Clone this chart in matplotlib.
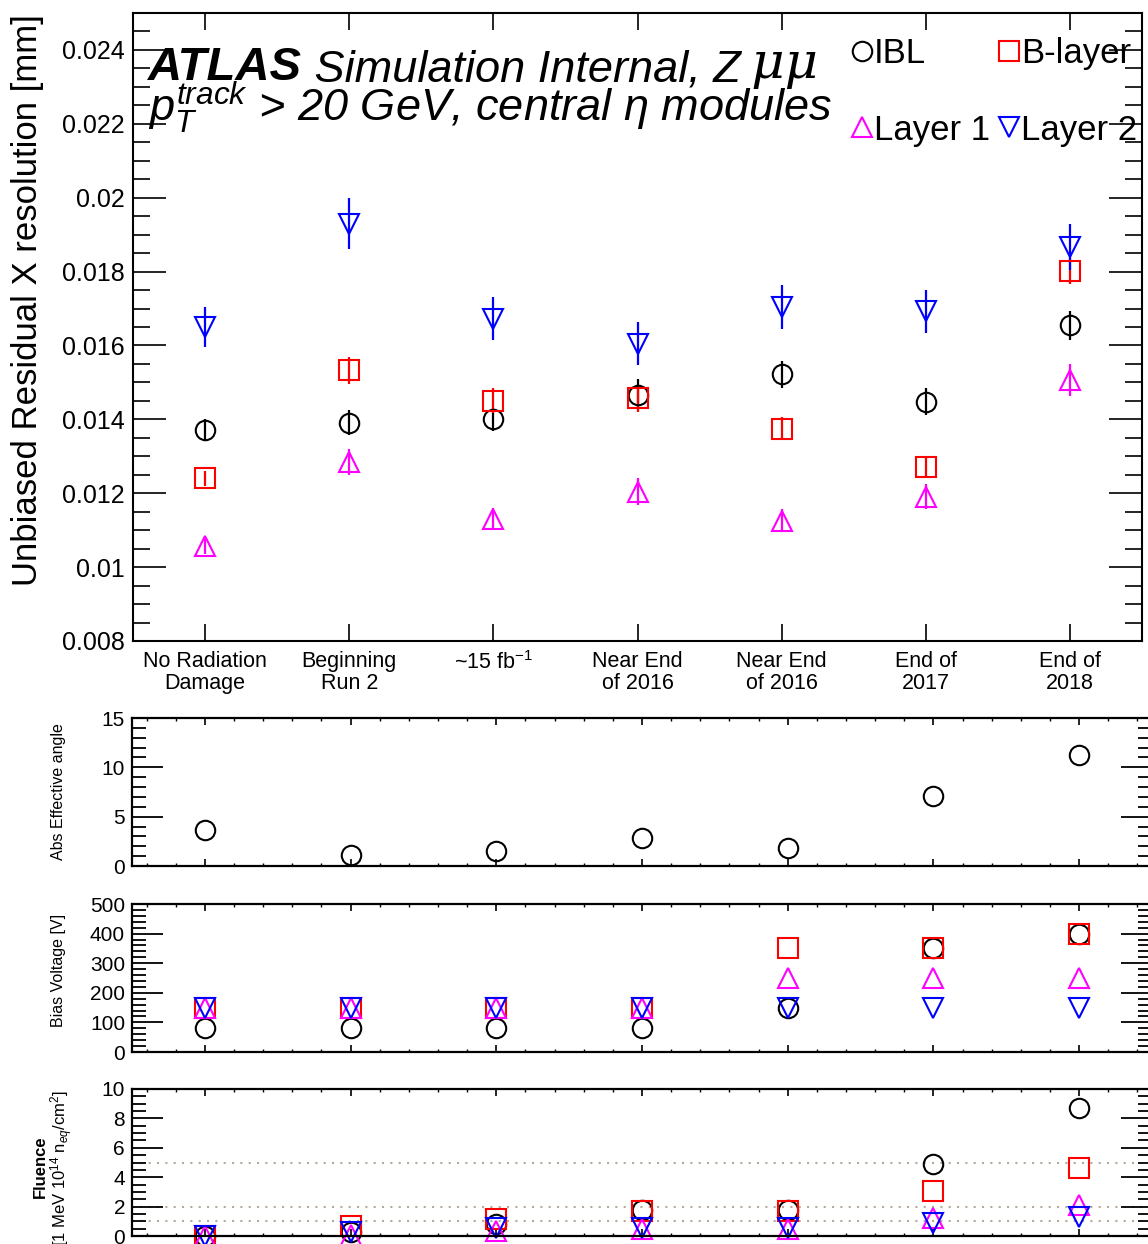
import matplotlib

matplotlib.use("Agg")
import matplotlib.pyplot as plt
import numpy as np
from matplotlib.ticker import FuncFormatter, MultipleLocator

plt.rcParams["font.family"] = ["Liberation Sans", "DejaVu Sans"]
plt.rcParams["mathtext.fontset"] = "custom"
plt.rcParams["mathtext.rm"] = "Liberation Sans"
plt.rcParams["mathtext.it"] = "Liberation Sans:italic"
plt.rcParams["mathtext.bf"] = "Liberation Sans:bold"

# --- data ---
categories = ["No Radiation\nDamage", "Beginning\nRun 2", "~15 fb$^{-1}$",
              "Near End\nof 2016", "Near End\nof 2016", "End of\n2017", "End of\n2018"]

res_ibl = [0.01371, 0.01391, 0.01400, 0.01466, 0.01522, 0.01448, 0.01655]
err_ibl = [0.00030, 0.00034, 0.00032, 0.00042, 0.00037, 0.00036, 0.00039]
res_blayer = [0.01240, 0.01533, 0.01450, 0.01457, 0.01375, 0.01270, 0.01802]
err_blayer = [0.00020, 0.00037, 0.00034, 0.00036, 0.00032, 0.00029, 0.00036]
res_layer1 = [0.01056, 0.01285, 0.01130, 0.01204, 0.01126, 0.01191, 0.01506]
err_layer1 = [0.00020, 0.00036, 0.00030, 0.00037, 0.00032, 0.00034, 0.00044]
res_layer2 = [0.01650, 0.01930, 0.01673, 0.01605, 0.01704, 0.01693, 0.01867]
err_layer2 = [0.00055, 0.00068, 0.00058, 0.00058, 0.00059, 0.00058, 0.00063]

angle_ibl = [3.65, 1.15, 1.5, 2.8, 1.8, 7.1, 11.2]

bias_ibl = [80, 80, 80, 80, 150, 350, 400]
bias_blayer = [150, 150, 150, 150, 350, 350, 400]
bias_layer1 = [150, 150, 150, 150, 250, 250, 250]
bias_layer2 = [150, 150, 150, 150, 150, 150, 150]

flu_ibl = [0.0, 0.3, 0.8, 1.8, 1.8, 4.9, 8.7]
flu_blayer = [0.0, 0.7, 1.15, 1.7, 1.7, 3.05, 4.6]
flu_layer1 = [0.0, 0.1, 0.35, 0.45, 0.45, 1.2, 2.1]
flu_layer2 = [0.0, 0.3, 0.55, 0.55, 0.55, 0.9, 1.3]
flu_guides = [1, 2, 5]

layers = ["IBL", "B-layer", "Layer 1", "Layer 2"]
markers = ["o", "s", "^", "v"]
colors = ["black", "#ff0000", "#ff00ff", "#0000ff"]

W, H = 1148, 1244
fig = plt.figure(figsize=(W / 100, H / 100), dpi=100)


def box(l, t, r, b):
    return [l / W, 1 - b / H, (r - l) / W, (b - t) / H]


ax = fig.add_axes(box(133, 13, 1142, 641))
ax_ang = fig.add_axes(box(132, 718, 1152, 866))
ax_bias = fig.add_axes(box(132, 904, 1152, 1052))
ax_flu = fig.add_axes(box(132, 1089, 1152, 1236))

x = np.arange(len(categories))
mk = dict(ms=14, mew=1.5, mfc="none", linestyle="none")

# --- top panel: resolution ---
handles = []
for name, m, c, v, e in zip(layers, markers, colors,
                            [res_ibl, res_blayer, res_layer1, res_layer2],
                            [err_ibl, err_blayer, err_layer1, err_layer2]):
    eb = ax.errorbar(x, v, yerr=e, fmt=m, color=c, elinewidth=1.6, capsize=0, **mk)
    handles.append(eb[0])

ax.set_xlim(-0.5, 6.5)
ax.set_ylim(0.008, 0.025)
ax.set_xticks(x)
ax.set_xticklabels(categories, fontsize=15.5, linespacing=1.1)
ax.tick_params(axis="x", which="major", direction="in", length=12, width=1.2,
               top=True, bottom=True, pad=7)
ax.yaxis.set_major_locator(MultipleLocator(0.002))
ax.yaxis.set_minor_locator(MultipleLocator(0.0005))
ax.yaxis.set_major_formatter(FuncFormatter(lambda v, p: f"{v:g}"))
ax.tick_params(axis="y", which="major", direction="in", length=24, width=1.2,
               left=True, right=True, labelsize=18, pad=6)
ax.tick_params(axis="y", which="minor", direction="in", length=12, width=1.2,
               left=True, right=True)
for s in ax.spines.values():
    s.set_linewidth(1.5)

fig.text(28 / W, 1 - 300 / H, "Unbiased Residual X resolution [mm]", rotation=90,
         ha="center", va="center", fontsize=25)

t1 = ax.text(0.015, 0.893, "ATLAS", transform=ax.transAxes, fontsize=34,
             fontweight="bold", fontstyle="italic", va="baseline")
t2 = ax.annotate(" Simulation Internal, Z", xy=(1, 0), xycoords=t1,
                 fontsize=32.5, fontstyle="italic", va="bottom")
ax.annotate("\u2009\u03bc\u03bc", xy=(1, 0.02), xycoords=t2, fontsize=37,
            fontstyle="italic", family=["DejaVu Serif"], va="bottom")
ax.text(0.015, 0.828, "$p_{T}^{track}$ > 20 GeV, central $\\eta$ modules",
        transform=ax.transAxes, fontsize=32.5, fontstyle="italic", va="baseline")

order = [0, 2, 1, 3]
ax.legend([handles[i] for i in order], [layers[i] for i in order], ncol=2,
          loc="upper left", bbox_to_anchor=(0.712, 0.962), frameon=False,
          fontsize=25, handlelength=0.6, handletextpad=0.05, columnspacing=0.25,
          labelspacing=1.26, borderpad=0, borderaxespad=0)


def style_lower(a, ymax, major, minor):
    a.set_xlim(-0.5, 6.5)
    a.set_ylim(0, ymax)
    a.set_xticks(x)
    a.xaxis.set_minor_locator(MultipleLocator(0.2))
    a.tick_params(axis="x", which="major", direction="in", length=5, width=1.2,
                  top=True, bottom=True, labelbottom=False)
    a.tick_params(axis="x", which="minor", direction="in", length=2.5, width=1.0,
                  top=True, bottom=True)
    a.yaxis.set_major_locator(MultipleLocator(major))
    a.yaxis.set_minor_locator(MultipleLocator(minor))
    a.tick_params(axis="y", which="major", direction="in", length=22, width=1.3,
                  left=True, right=True, labelsize=15, pad=5)
    a.tick_params(axis="y", which="minor", direction="in", length=10, width=1.3,
                  left=True, right=True)
    for s in a.spines.values():
        s.set_linewidth(1.6)


# --- effective angle ---
ax_ang.plot(x, angle_ibl, marker="o", color="black", **mk)
style_lower(ax_ang, 15, 5, 1)
fig.text(58 / W, 1 - 792 / H, "Abs Effective angle", rotation=90,
         ha="center", va="center", fontsize=11.5)

# --- bias voltage ---
for m, c, v in zip(markers, colors, [bias_ibl, bias_blayer, bias_layer1, bias_layer2]):
    ax_bias.plot(x, v, marker=m, color=c, **mk)
style_lower(ax_bias, 500, 100, 20)
fig.text(58 / W, 1 - 970 / H, "Bias Voltage [V]", rotation=90,
         ha="center", va="center", fontsize=11.5)

# --- fluence ---
for g in flu_guides:
    ax_flu.axhline(g, color="#b5aa9c", linestyle=(0, (1, 3)), linewidth=1.5, zorder=0)
for m, c, v in zip(markers, colors, [flu_ibl, flu_blayer, flu_layer1, flu_layer2]):
    ax_flu.plot(x, v, marker=m, color=c, clip_on=False, **mk)
style_lower(ax_flu, 10, 2, 0.5)
fig.text(40 / W, 1 - 1167 / H, "Fluence", rotation=90, ha="center", va="center",
         fontsize=12, fontweight="bold")
fig.text(62 / W, 1 - 1090 / H, "[1 MeV 10$^{14}$ n$_{eq}$/cm$^{2}$]", rotation=90,
         ha="center", va="top", fontsize=12)

fig.savefig("out.png", dpi=100)
plt.close(fig)
